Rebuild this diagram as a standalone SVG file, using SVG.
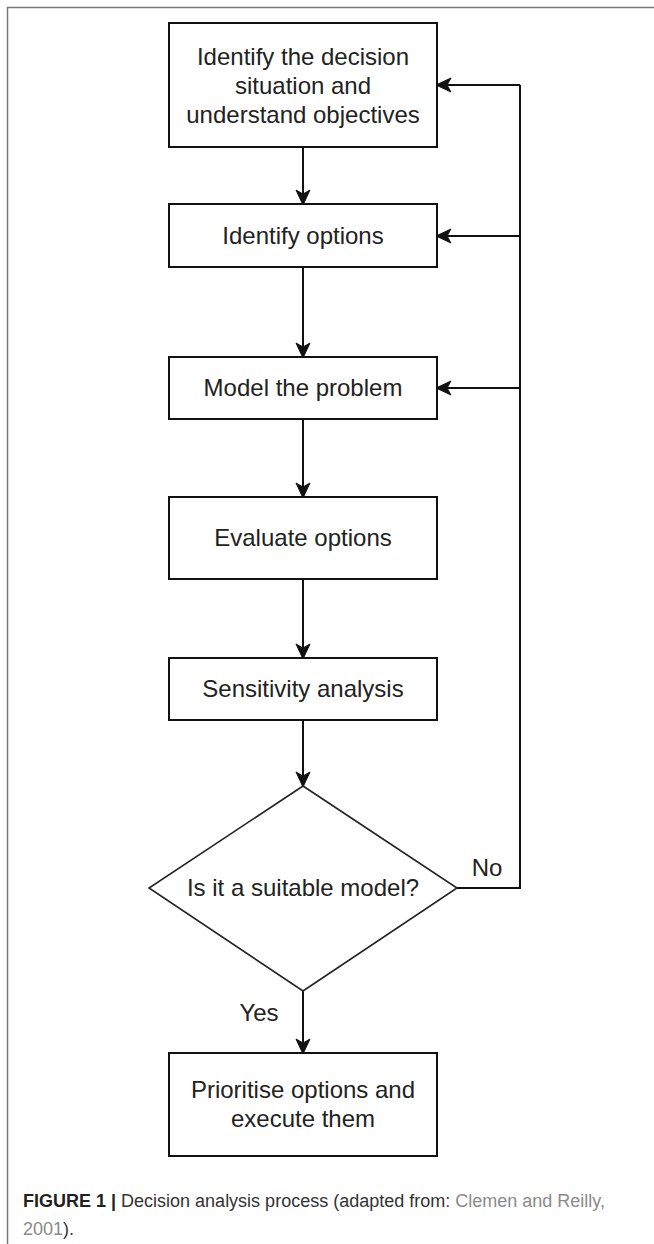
<svg xmlns="http://www.w3.org/2000/svg" width="654" height="1244" viewBox="0 0 654 1244">
<style>
.box{fill:#fff;stroke:#111;stroke-width:2}
.dia{fill:#fff;stroke:#222;stroke-width:1.6}
.lbl{font-family:"Liberation Sans",Arial,sans-serif;font-size:24px;fill:#222;text-anchor:middle}
.edge{fill:none;stroke:#111;stroke-width:2}
.arr{marker-end:url(#ah)}
.cap{font-family:"Liberation Sans",Arial,sans-serif;font-size:18px;fill:#333}
.b{font-weight:bold;fill:#231f20}
.g{fill:#8a8a8a}
</style>
<defs>
<marker id="ah" markerUnits="userSpaceOnUse" viewBox="-16 -8 18 16" refX="-1" refY="0" markerWidth="18" markerHeight="16" orient="auto">
<path d="M1,0 L-14,-7 L-10,0 L-14,7 Z" fill="#111" stroke="#111" stroke-width="1" stroke-linejoin="miter"/>
</marker>
</defs>
<rect x="0" y="0" width="654" height="1244" fill="#fff"/>
<g id="frame">
<path d="M7.5,1244 V7.5 H654" fill="none" stroke="#777" stroke-width="1.5"/>
</g>
<g id="connectors">
<line class="edge arr" x1="303" y1="147" x2="303" y2="203"/>
<line class="edge arr" x1="303" y1="267" x2="303" y2="356"/>
<line class="edge arr" x1="303" y1="419" x2="303" y2="496"/>
<line class="edge arr" x1="303" y1="579" x2="303" y2="657"/>
<line class="edge arr" x1="303" y1="720" x2="303" y2="785"/>
<line class="edge arr" x1="303" y1="991" x2="303" y2="1052"/>
<path class="edge" d="M457,888 H520 V85"/>
<line class="edge arr" x1="520" y1="85" x2="438" y2="85"/>
<line class="edge arr" x1="520" y1="236" x2="438" y2="236"/>
<line class="edge arr" x1="520" y1="388" x2="438" y2="388"/>
<text class="lbl" x="487" y="876">No</text>
<text class="lbl" x="259" y="1021">Yes</text>
</g>
<g id="n1">
<rect class="box" x="169" y="23" width="268" height="124"/>
<text class="lbl" x="303" y="65">Identify the decision</text>
<text class="lbl" x="303" y="94">situation and</text>
<text class="lbl" x="303" y="123">understand objectives</text>
</g>
<g id="n2">
<rect class="box" x="169" y="204" width="268" height="63"/>
<text class="lbl" x="303" y="244">Identify options</text>
</g>
<g id="n3">
<rect class="box" x="169" y="357" width="268" height="62"/>
<text class="lbl" x="303" y="396">Model the problem</text>
</g>
<g id="n4">
<rect class="box" x="169" y="497" width="268" height="82"/>
<text class="lbl" x="303" y="546">Evaluate options</text>
</g>
<g id="n5">
<rect class="box" x="169" y="658" width="268" height="62"/>
<text class="lbl" x="303" y="697">Sensitivity analysis</text>
</g>
<g id="n6">
<polygon class="dia" points="303,786 457,888 303,991 149,888"/>
<text class="lbl" x="303" y="896">Is it a suitable model?</text>
</g>
<g id="n7">
<rect class="box" x="169" y="1053" width="268" height="103"/>
<text class="lbl" x="303" y="1098">Prioritise options and</text>
<text class="lbl" x="303" y="1127">execute them</text>
</g>
<g id="caption">
<text class="cap" x="23" y="1207"><tspan class="b">FIGURE 1 | </tspan>Decision analysis process (adapted from: <tspan class="g">Clemen and Reilly,</tspan></text>
<text class="cap" x="23" y="1235"><tspan class="g">2001</tspan>).</text>
</g>
</svg>
